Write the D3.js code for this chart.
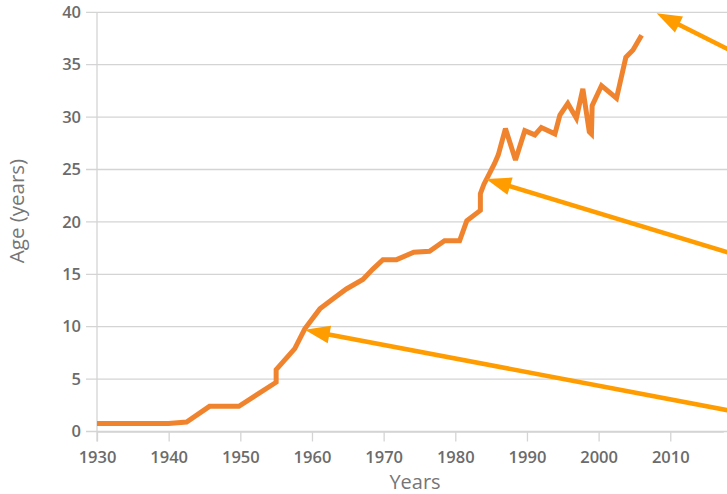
<!DOCTYPE html>
<html>
<head>
    <meta charset="utf-8">
    <style>
        html, body {
            margin: 0;
            padding: 0;
            background: #fff;
        }

        svg {
            display: block;
            font-family: "Open Sans", "DejaVu Sans", sans-serif;
        }
    </style>
</head>
<body>
<div id="chart"></div>

<script src="https://cdn.jsdelivr.net/npm/d3@7"></script>
<script>
    "use strict";

    const WIDTH = 727;
    const HEIGHT = 494;

    // data
    const years = [1930, 1940.0, 1942.5, 1945.7, 1949.8, 1955.0, 1955.0, 1957.6, 1959.0, 1961.1,
        1963.0, 1964.8, 1967.1, 1968.5, 1969.9, 1971.8, 1974.2, 1976.4, 1978.5, 1980.6,
        1981.6, 1983.5, 1983.5, 1984.0, 1984.6, 1985.5, 1986.0, 1987.0, 1988.4, 1989.7,
        1991.1, 1992.0, 1993.9, 1994.6, 1995.7, 1996.9, 1997.8, 1998.7, 1999.0, 1999.1,
        2000.4, 2002.5, 2003.8, 2004.8, 2006.0];
    const ages = [0.76, 0.76, 0.9, 2.4, 2.4, 4.7, 5.9, 7.9, 9.8, 11.7,
        12.7, 13.6, 14.5, 15.5, 16.4, 16.4, 17.1, 17.2, 18.2, 18.2,
        20.1, 21.1, 22.7, 23.6, 24.4, 25.6, 26.4, 28.9, 25.9, 28.7,
        28.3, 29.0, 28.4, 30.2, 31.3, 29.9, 32.7, 28.6, 28.4, 31.1,
        33.0, 31.8, 35.7, 36.4, 37.8];

    const xTicks = [1930, 1940, 1950, 1960, 1970, 1980, 1990, 2000, 2010];
    const yTicks = [0, 5, 10, 15, 20, 25, 30, 35, 40];

    // annotation arrows (tip and tail, in years / age)
    const arrowTipYears = [1959.0, 1984.3, 2008.1];
    const arrowTipAges = [9.7, 24.1, 39.9];
    const arrowTailYears = [2019, 2019, 2019];
    const arrowTailAges = [1.9, 16.9, 36.15];

    const LINE_COLOR = "#f0842e";
    const ARROW_COLOR = "#ff9c00";
    const GRID_COLOR = "#d4d4d4";
    const TICK_TEXT = "#6b6b6b";

    const x = d3.scaleLinear().domain([1930, 2017.4]).range([97, 723.3]);
    const y = d3.scaleLinear().domain([0, 40]).range([431.5, 12.3]);

    const svg = d3.select("#chart").append("svg")
        .attr("width", WIDTH)
        .attr("height", HEIGHT);

    // horizontal grid lines, running out to the right edge
    svg.append("g")
        .selectAll("line")
        .data(yTicks)
        .enter()
        .append("line")
        .attr("x1", 86)
        .attr("x2", WIDTH)
        .attr("y1", d => y(d))
        .attr("y2", d => y(d))
        .style("stroke", GRID_COLOR)
        .style("stroke-width", 1.3);

    // y axis
    const yAxis = svg.append("g")
        .attr("transform", "translate(" + x(1930) + ",0)")
        .call(d3.axisLeft(y).tickValues(yTicks).tickSize(0).tickPadding(16));
    yAxis.select(".domain").remove();
    svg.append("line")
        .attr("x1", x(1930)).attr("x2", x(1930))
        .attr("y1", y(40)).attr("y2", y(0) + 10)
        .style("stroke", GRID_COLOR)
        .style("stroke-width", 1.3);

    // x axis
    const xAxis = svg.append("g")
        .attr("transform", "translate(0," + y(0) + ")")
        .call(d3.axisBottom(x).tickValues(xTicks).tickFormat(d3.format("d"))
            .tickSize(10).tickSizeOuter(0).tickPadding(7));
    xAxis.select(".domain").style("stroke", GRID_COLOR).style("stroke-width", 1.3);
    xAxis.selectAll(".tick line").style("stroke", GRID_COLOR).style("stroke-width", 1.3);

    svg.selectAll(".tick text")
        .style("fill", TICK_TEXT)
        .style("font-family", "'Open Sans', sans-serif")
        .style("font-weight", 600)
        .style("font-size", "16.5px");
    xAxis.selectAll(".tick text").attr("dy", "0.85em");

    // axis titles
    svg.append("text")
        .attr("x", 415)
        .attr("y", 489)
        .attr("text-anchor", "middle")
        .style("fill", "#767676")
        .style("font-size", "20px")
        .text("Years");

    svg.append("text")
        .attr("transform", "translate(24,211) rotate(-90)")
        .attr("text-anchor", "middle")
        .style("fill", "#767676")
        .style("font-size", "20.5px")
        .text("Age (years)");

    // data line
    const points = years.map((d, i) => [d, ages[i]]);
    const line = d3.line()
        .x(d => x(d[0]))
        .y(d => y(d[1]));

    svg.append("path")
        .datum(points)
        .attr("d", line)
        .style("fill", "none")
        .style("stroke", LINE_COLOR)
        .style("stroke-width", 5)
        .style("stroke-linejoin", "miter")
        .style("stroke-miterlimit", 3);

    // arrows
    const HEAD_LEN = 25;
    const HEAD_HALF = 9;

    function drawArrow(i) {
        const tx = x(arrowTipYears[i]);
        const ty = y(arrowTipAges[i]);
        const sx = x(arrowTailYears[i]);
        const sy = y(arrowTailAges[i]);
        const len = Math.hypot(sx - tx, sy - ty);
        const ux = (sx - tx) / len;
        const uy = (sy - ty) / len;
        const bx = tx + ux * HEAD_LEN;
        const by = ty + uy * HEAD_LEN;

        svg.append("line")
            .attr("x1", sx).attr("y1", sy)
            .attr("x2", bx - ux * 2).attr("y2", by - uy * 2)
            .style("stroke", ARROW_COLOR)
            .style("stroke-width", 4.6);

        svg.append("polygon")
            .attr("points", [
                [tx, ty],
                [bx - uy * HEAD_HALF, by + ux * HEAD_HALF],
                [bx + uy * HEAD_HALF, by - ux * HEAD_HALF]
            ].map(p => p.join(",")).join(" "))
            .style("fill", ARROW_COLOR);
    }

    arrowTipYears.forEach((d, i) => drawArrow(i));
</script>
</body>
</html>
